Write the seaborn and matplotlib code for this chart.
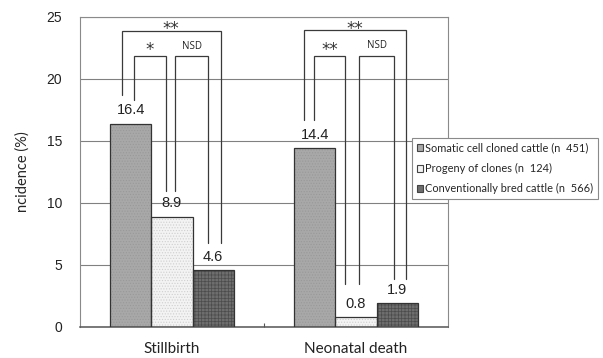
import matplotlib
matplotlib.use("Agg")
import matplotlib.pyplot as plt
from matplotlib.patches import Rectangle, Patch
import seaborn as sns
import pandas as pd

# Incidence (%) of perinatal losses by breeding origin
outcomes = ["Stillbirth", "Neonatal death"]
groups = [
    "Somatic cell cloned cattle (n  451)",
    "Progeny of clones (n  124)",
    "Conventionally bred cattle (n  566)",
]
cloned = [16.4, 14.4]
progeny = [8.9, 0.8]
conventional = [4.6, 1.9]
y_ticks = [0, 5, 10, 15, 20, 25]

df = pd.DataFrame({
    "outcome": outcomes * 3,
    "group": [groups[0]] * 2 + [groups[1]] * 2 + [groups[2]] * 2,
    "incidence": cloned + progeny + conventional,
})

sns.set_theme(style="white")
plt.rcParams["font.family"] = ["Lato", "DejaVu Sans"]
plt.rcParams["hatch.linewidth"] = 0.5

fig = plt.figure(figsize=(6.03, 3.58), dpi=100)
ax = fig.add_axes([80 / 603, 1 - 327 / 358, 368 / 603, 310 / 358])

fills = ["#a8a8a8", "#f3f3f3", "#6e6e6e"]
hatch_cols = ["#999999", "#cfcfcf", "#4c4c4c"]
hatches = ["......", "......", "+++++"]

sns.barplot(data=df, x="outcome", y="incidence", hue="group",
            order=outcomes, hue_order=groups, palette=fills,
            saturation=1, width=0.67, errorbar=None, legend=False, ax=ax)

for cont, fc, hc, h in zip(ax.containers, fills, hatch_cols, hatches):
    for bar in cont:
        bar.set_hatch(h)
        bar.set_edgecolor(hc)
        bar.set_linewidth(0)
        ax.add_patch(Rectangle(bar.get_xy(), bar.get_width(), bar.get_height(),
                               fill=False, edgecolor="#333333", lw=0.9, zorder=3))
    ax.bar_label(cont, fmt="%.1f", padding=4.5, family="Liberation Sans",
                 fontsize=10.5, color="#222222")

ax.set_xlim(-0.5, 1.5)
ax.set_ylim(0, 25)
ax.set_yticks(y_ticks)
ax.set_yticklabels([str(t) for t in y_ticks], family="Liberation Sans", fontsize=10)
ax.set_xticks(range(len(outcomes)))
ax.set_xticklabels(outcomes, fontsize=11)
ax.set_xlabel("")
ax.set_ylabel("ncidence (%)", fontsize=10.5, labelpad=12)
ax.yaxis.grid(True, color="#808080", lw=0.8)
ax.set_axisbelow(True)
ax.tick_params(axis="y", length=0, pad=13, colors="#222222")
ax.tick_params(axis="x", which="major", length=0, pad=11, colors="#222222")
ax.set_xticks([0.5], minor=True)
ax.tick_params(axis="x", which="minor", direction="in", length=3, width=0.8,
               color="#555555", bottom=True)
for side in ["top", "right", "left"]:
    ax.spines[side].set_color("#8a8a8a")
    ax.spines[side].set_linewidth(0.8)
ax.spines["bottom"].set_color("#555555")
ax.spines["bottom"].set_linewidth(1.1)

# significance brackets: (group, left x, right x, left end, right end, top, label, label y, label font)
brackets = [
    (0, -0.274, 0.264, 18.7, 6.8, 23.9, "**", 23.65, "star"),
    (0, -0.209, -0.035, 18.3, 11.0, 21.85, "*", 21.95, "star"),
    (0, 0.019, 0.198, 11.0, 6.8, 21.85, "NSD", 22.4, "nsd"),
    (1, -0.285, 0.273, 16.7, 3.9, 23.95, "**", 23.65, "star"),
    (1, -0.226, -0.0625, 16.7, 3.5, 21.85, "**", 21.95, "star"),
    (1, 0.014, 0.209, 3.5, 3.9, 21.85, "NSD", 22.5, "nsd"),
]
for g, xl, xr, yl, yr, top, lab, ly, kind in brackets:
    ax.plot([g + xl, g + xl, g + xr, g + xr], [yl, top, top, yr],
            color="#3a3a3a", lw=0.9, solid_joinstyle="miter", zorder=4)
    if kind == "star":
        ax.text(g + (xl + xr) / 2, ly, lab, ha="center", va="baseline",
                family="DejaVu Sans", fontsize=12, color="#333333", zorder=5)
    else:
        ax.text(g + (xl + xr) / 2, ly, lab, ha="center", va="baseline",
                family="Open Sans", fontsize=7, color="#222222", zorder=5)

handles = [Patch(facecolor=fc, edgecolor="#444444", lw=0.8) for fc in fills]
leg = fig.legend(handles, groups, loc="upper left",
                 bbox_to_anchor=(412 / 603, 1 - 138 / 358), frameon=True,
                 fancybox=False, framealpha=1, edgecolor="#8a8a8a",
                 fontsize=7.9, handlelength=0.6, handleheight=0.6,
                 handletextpad=0.2, labelspacing=0.85, borderpad=0.42,
                 borderaxespad=0)
leg.get_frame().set_linewidth(0.8)

fig.savefig("out.png", dpi=100)
